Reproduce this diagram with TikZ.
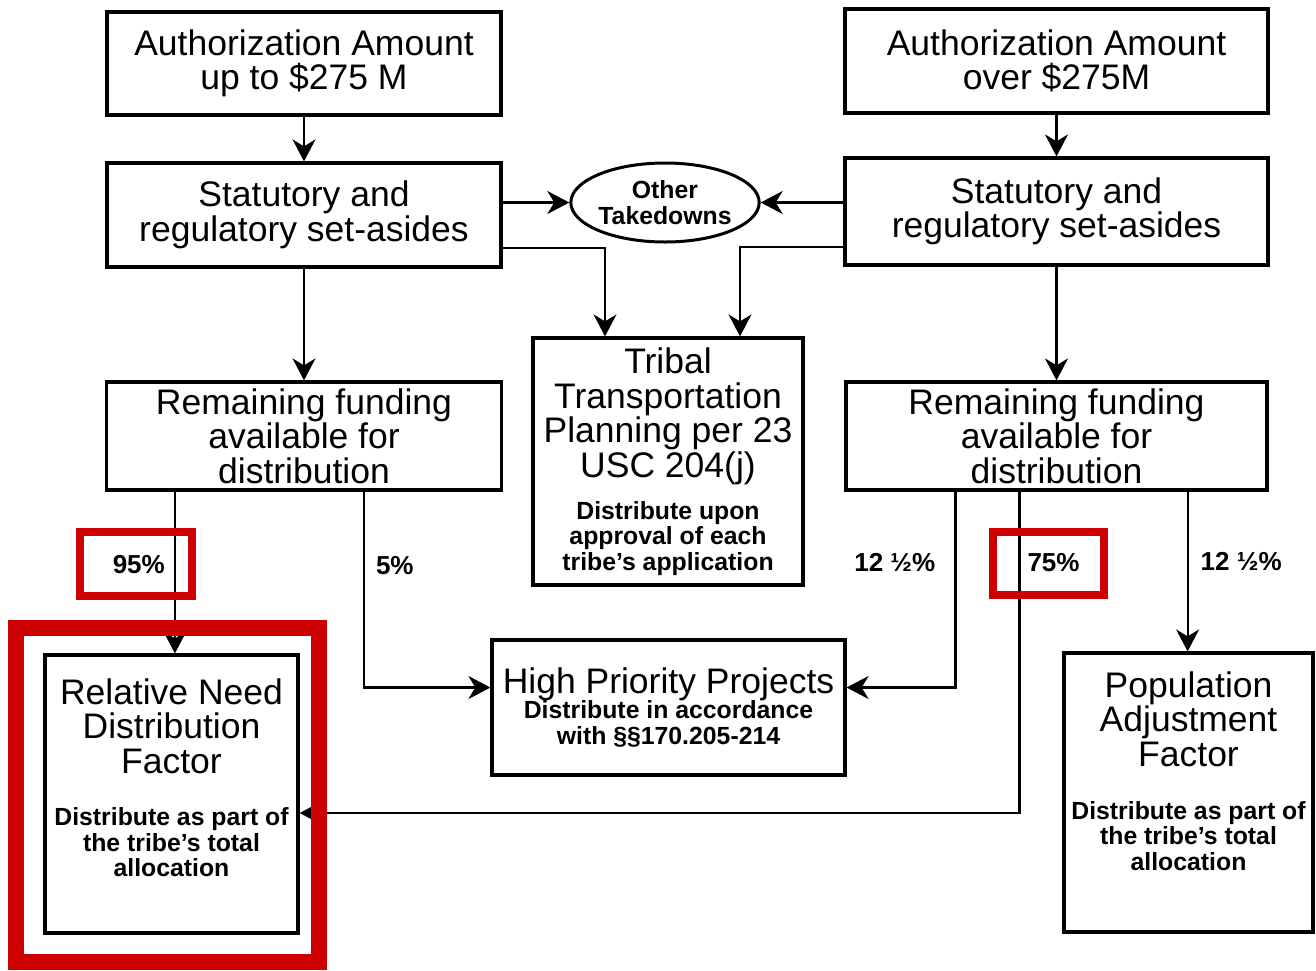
\documentclass[tikz,border=0pt]{standalone}
\usepackage{fontspec}
\setmainfont{Liberation Sans}
\usetikzlibrary{arrows.meta, shapes.geometric, positioning}

\definecolor{markred}{RGB}{204,0,0}
\newcommand{\titlefont}{\fontsize{17.75}{17.25}\selectfont}
\newcommand{\notefont}{\bfseries\fontsize{12.4}{12.75}\selectfont}

\begin{document}
\begin{tikzpicture}
    [
        x=0.5pt, y=-0.5pt,
        >={Stealth[length=11pt, width=11.5pt, inset=3.5pt]},
        box/.style={draw, line width=1.6pt, inner xsep=0pt, inner ysep=0pt, align=flush center, font=\titlefont},
        oval/.style={draw, ellipse, line width=1.5pt, inner sep=0pt, align=center, font=\notefont},
        pct/.style={font=\bfseries\fontsize{13}{13}\selectfont, inner sep=0pt},
        hilite/.style={draw=markred, line width=4pt}
    ]
    \tikzstyle{line} = [draw, ->, line width=1.1pt]

    \useasboundingbox (0,0) rectangle (1316,970);

    % left column
    \node[box, text width=197pt, minimum height=51.5pt] (auth1) at (304,63.5) {Authorization Amount\\up to \$275 M};
    \node[box, text width=197pt, minimum height=52pt, below of=auth1, node distance=75.75pt] (sets1) {Statutory and\\regulatory set-asides};
    \node[box, text width=197.5pt, minimum height=54pt, below of=sets1, node distance=110.5pt] (rem1) {Remaining funding\\available for\\distribution};

    % right column
    \node[box, text width=211.5pt, minimum height=52pt] (auth2) at (1056.5,61) {Authorization Amount\\over \$275M};
    \node[box, text width=211.5pt, minimum height=53.5pt, below of=auth2, node distance=75.25pt] (sets2) {Statutory and\\regulatory set-asides};
    \node[box, text width=210.5pt, minimum height=54pt, below of=sets2, node distance=112.25pt] (rem2) {Remaining funding\\available for\\distribution};

    % middle
    \node[oval, minimum width=93pt, minimum height=39.5pt] (other) at (665,202.5) {Other\\Takedowns};
    \node[box, text width=135pt, minimum height=123.5pt] (tribal) at (668,461.5)
        {Tribal\\Transportation\\Planning per 23\\USC 204(j)\par\vspace{8.25pt}%
         {\notefont Distribute upon\\approval of each\\tribe's application\par}};
    \node[box, text width=176.5pt, minimum height=67.5pt] (hp) at (668.5,707.5)
        {High Priority Projects\par{\notefont Distribute in accordance\\with §§170.205-214\par}};

    % factors
    \node[box, text width=126.5pt, minimum height=139pt] (need) at (171.5,794)
        {Relative Need\\Distribution\\Factor\par\vspace{13.5pt}%
         {\notefont Distribute as part of\\the tribe's total\\allocation\par}\vspace{-0.75pt}\mbox{}};
    \node[box, text width=124.5pt, minimum height=139.5pt] (pop) at (1188.5,792.5)
        {Population\\Adjustment\\Factor\par\vspace{13.75pt}%
         {\notefont Distribute as part of\\the tribe's total\\allocation\par}\vspace{4.25pt}\mbox{}};

    % split points
    \coordinate (o95) at ([xshift=35pt]rem1.south west);
    \coordinate (o5) at ([xshift=129.5pt]rem1.south west);
    \coordinate (o12l) at ([xshift=55.5pt]rem2.south west);
    \coordinate (o75) at ([xshift=87.5pt]rem2.south west);
    \coordinate (o12r) at ([xshift=-40.5pt]rem2.south east);

    \path[line] (auth1) -- (sets1);
    \path[line] (auth2) -- (sets2);
    \path[line] (sets1.east |- other.west) -- (other.west);
    \path[line] (sets2.west |- other.east) -- (other.east);
    \path[line] ([yshift=10.5pt]sets1.south east) -| ([xshift=-31.5pt]tribal.north);
    \path[line] ([yshift=10pt]sets2.south west) -| ([xshift=36pt]tribal.north);
    \path[line] (sets1) -- (rem1);
    \path[line] (sets2) -- (rem2);

    \path[line] (o95) -- node[pct, left=4.5pt, pos=0.45] (l95) {95\%} (o95 |- need.north);
    \path[line] (o5) |- node[pct, right=5.5pt, pos=0.19] (l5) {5\%} ([yshift=10pt]hp.west);
    \path[line] (o12l) |- node[pct, left=9.5pt, pos=0.18] (l12l) {12 ½\%} ([yshift=10pt]hp.east);
    \path[line] (o75) |- node[pct, right=3.5pt, pos=0.11] (l75) {75\%} ([yshift=-9.5pt]need.east);
    \path[line] (o12r) -- node[pct, right=6pt, pos=0.44] (l12r) {12 ½\%} (o12r |- pop.north);

    % highlights
    \draw[hilite] (80,532) rectangle (192,596);
    \draw[hilite] (993,532) rectangle (1104,595);
    \draw[hilite, line width=8pt] (16,628) rectangle (319,962);
\end{tikzpicture}
\end{document}
